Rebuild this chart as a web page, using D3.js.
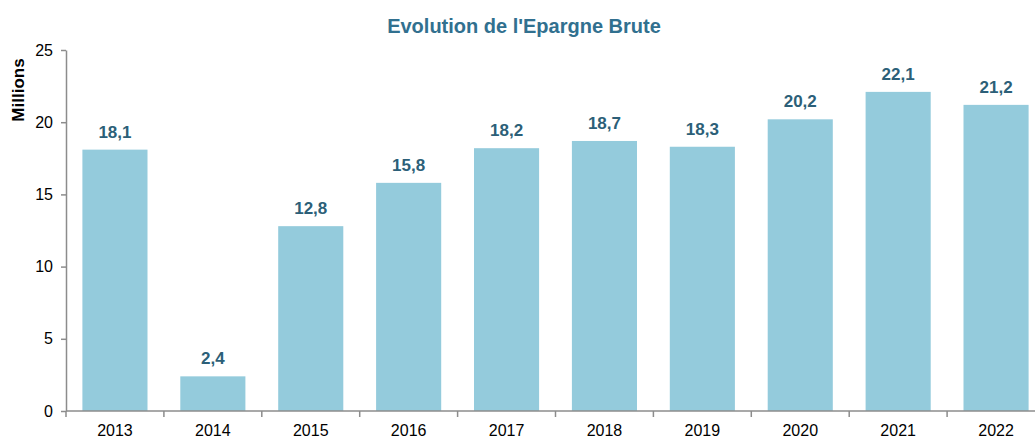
<!DOCTYPE html>
<html>
<head>
<meta charset="utf-8">
<script src="https://cdn.jsdelivr.net/npm/d3@7/dist/d3.min.js"></script>
<style>
  html, body { margin: 0; padding: 0; background: #fff; overflow: hidden; }
  svg { display: block; font-family: "Liberation Sans", Arial, sans-serif; }
</style>
</head>
<body>
<svg id="chart" width="1035" height="438"></svg>
<script>
// Gross savings by year (millions)
const years = ["2013", "2014", "2015", "2016", "2017", "2018", "2019", "2020", "2021", "2022"];
const savings = [18.1, 2.4, 12.8, 15.8, 18.2, 18.7, 18.3, 20.2, 22.1, 21.2];
const yTicks = [0, 5, 10, 15, 20, 25];

const svg = d3.select("#chart");
const plotLeft = 66, plotRight = 1045, plotTop = 50, plotBottom = 411;

const x = d3.scaleBand().domain(years).range([plotLeft, plotRight]).paddingInner(0.335).paddingOuter(0.1675);
const y = d3.scaleLinear().domain([0, 25]).range([plotBottom, plotTop]);

const fmt = v => v.toFixed(1).replace(".", ",");
const axisColor = "#8c8c8c";

// Title
svg.append("text")
  .attr("x", 524).attr("y", 33)
  .attr("text-anchor", "middle")
  .attr("font-size", 20).attr("font-weight", "bold")
  .attr("fill", "#31708f")
  .text("Evolution de l'Epargne Brute");

// Y axis title
svg.append("text")
  .attr("transform", "translate(24,90) rotate(-90)")
  .attr("text-anchor", "middle")
  .attr("font-size", 17).attr("font-weight", "bold")
  .attr("fill", "#000")
  .text("Millions");

// Bars
svg.append("g").selectAll("rect")
  .data(years)
  .join("rect")
  .attr("x", d => x(d))
  .attr("width", x.bandwidth())
  .attr("y", (d, i) => y(savings[i]))
  .attr("height", (d, i) => y(0) - y(savings[i]))
  .attr("fill", "#94cbdc");

// Value labels
svg.append("g").selectAll("text")
  .data(years)
  .join("text")
  .attr("x", d => x(d) + x.bandwidth() / 2)
  .attr("y", (d, i) => y(savings[i]) - 12)
  .attr("text-anchor", "middle")
  .attr("font-size", 17).attr("font-weight", "bold")
  .attr("fill", "#2c5f78")
  .text((d, i) => fmt(savings[i]));

// Y axis
const yAxis = svg.append("g")
  .attr("transform", `translate(${plotLeft},0)`)
  .call(d3.axisLeft(y).tickValues(yTicks).tickSize(5).tickSizeOuter(0).tickPadding(8).tickFormat(d3.format("d")));
yAxis.select(".domain").attr("stroke", axisColor).attr("stroke-width", 1.5);
yAxis.selectAll(".tick line").attr("stroke", axisColor).attr("stroke-width", 1.5);
yAxis.selectAll(".tick text").attr("font-size", 16).attr("fill", "#000").attr("font-family", "Liberation Sans, Arial, sans-serif");

// X axis with ticks at category boundaries
const xg = svg.append("g").attr("transform", `translate(0,${plotBottom})`);
xg.append("line")
  .attr("x1", plotLeft).attr("x2", 1035)
  .attr("stroke", axisColor).attr("stroke-width", 1.5);
const step = x.step();
xg.selectAll("line.tick")
  .data(years.map((d, i) => x(d) - x.paddingOuter() * step))
  .join("line")
  .attr("class", "tick")
  .attr("x1", d => d).attr("x2", d => d)
  .attr("y1", 0).attr("y2", 6)
  .attr("stroke", axisColor).attr("stroke-width", 1.5);
xg.selectAll("text")
  .data(years)
  .join("text")
  .attr("x", d => x(d) + x.bandwidth() / 2)
  .attr("y", 25)
  .attr("text-anchor", "middle")
  .attr("font-size", 16).attr("fill", "#000")
  .text(d => d);
</script>
</body>
</html>
